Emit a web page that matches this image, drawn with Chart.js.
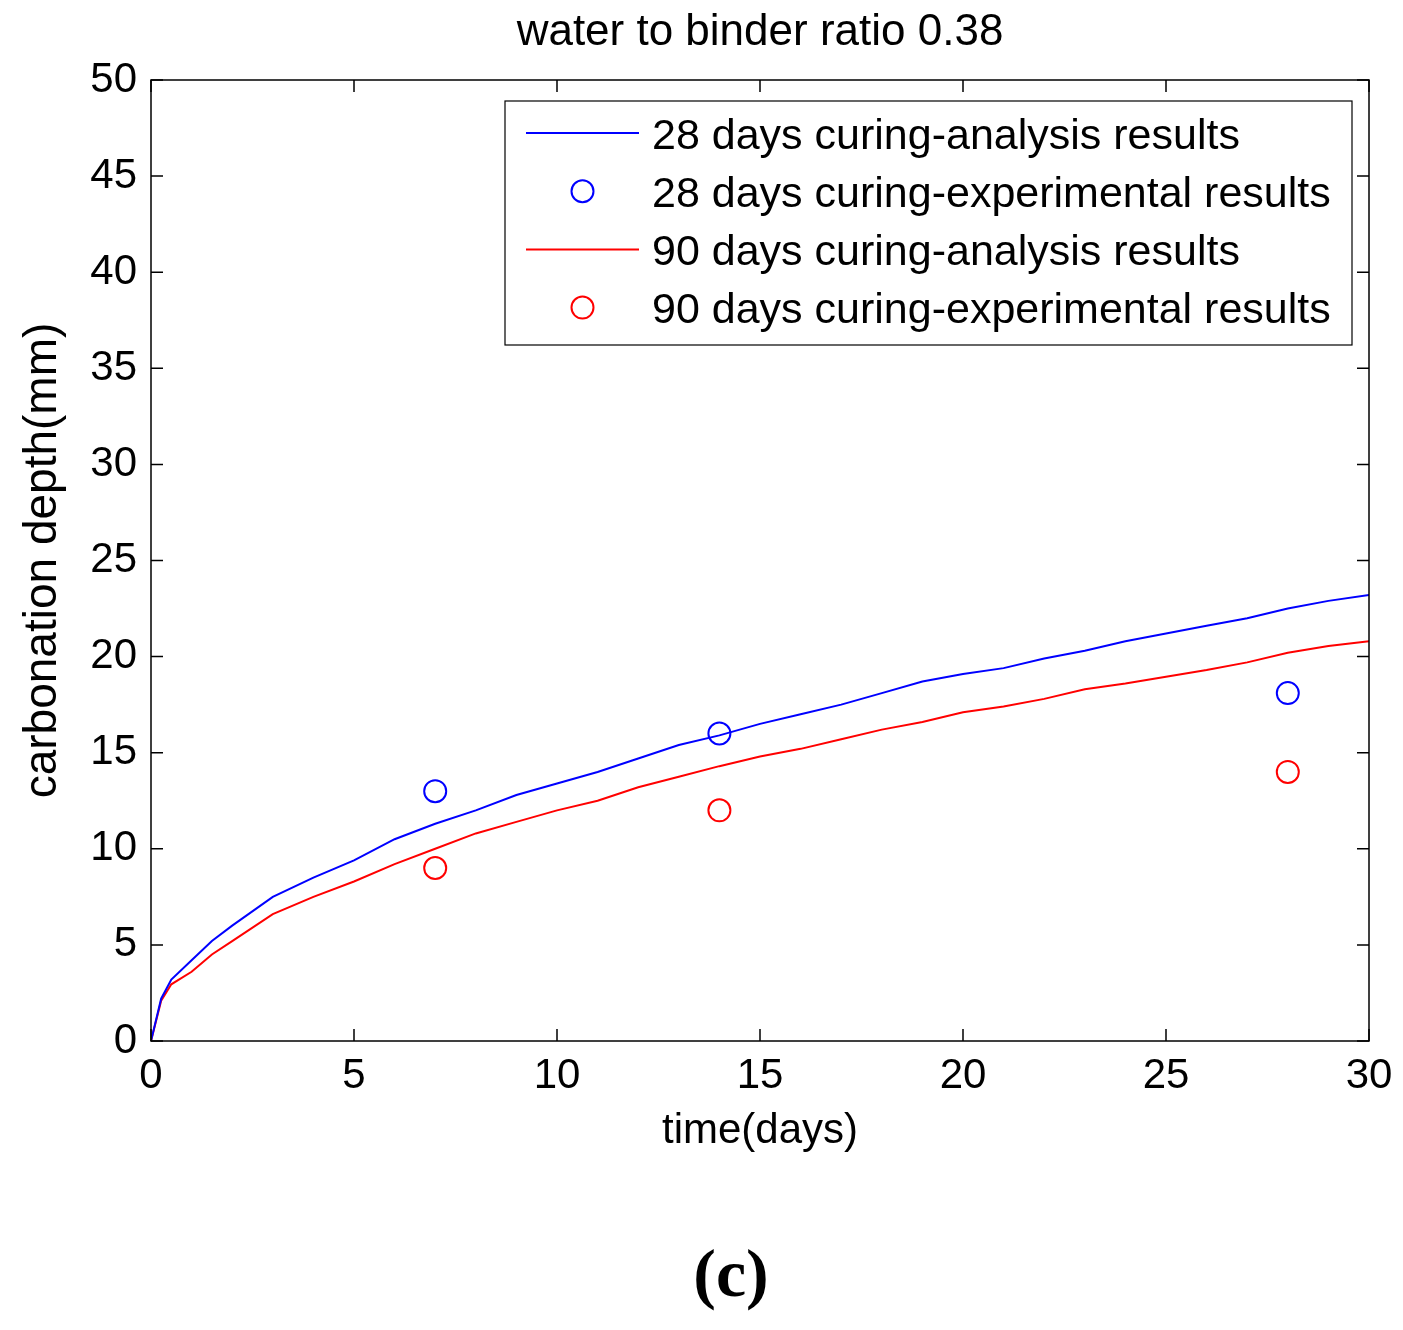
<!DOCTYPE html>
<html lang="en">
<head>
<meta charset="UTF-8">
<title>water to binder ratio 0.38</title>
<script src="https://cdn.jsdelivr.net/npm/chart.js"></script>
<style>
  html, body { margin: 0; padding: 0; background: #fff; }
  #chart { display: block; }
</style>
</head>
<body>
<canvas id="chart" width="1403" height="1330"></canvas>
<script>
    // analysis curves
    const timeDays = [0, 0.25, 0.5, 1, 1.5, 2, 3, 4, 5, 6, 7, 8, 9, 10, 11, 12, 13, 14, 15,
        16, 17, 18, 19, 20, 21, 22, 23, 24, 25, 26, 27, 28, 29, 30];
    const depth28 = [0, 2.2, 3.2, 4.2, 5.2, 6.0, 7.5, 8.5, 9.4, 10.5, 11.3, 12.0, 12.8, 13.4, 14.0, 14.7, 15.4, 15.9, 16.5,
        17.0, 17.5, 18.1, 18.7, 19.1, 19.4, 19.9, 20.3, 20.8, 21.2, 21.6, 22.0, 22.5, 22.9, 23.2];
    const depth90 = [0, 2.1, 2.95, 3.6, 4.5, 5.2, 6.6, 7.5, 8.3, 9.2, 10.0, 10.8, 11.4, 12.0, 12.5, 13.2, 13.75, 14.3, 14.8,
        15.2, 15.7, 16.2, 16.6, 17.1, 17.4, 17.8, 18.3, 18.6, 18.95, 19.3, 19.7, 20.2, 20.55, 20.8];

    // experimental points
    const testDays = [7, 14, 28];
    const test28 = [13, 16, 18.1];
    const test90 = [9, 12, 14];

    const seriesLabels = [
        '28 days curing-analysis results',
        '28 days curing-experimental results',
        '90 days curing-analysis results',
        '90 days curing-experimental results'
    ];

    const BLUE = '#0000ff';
    const RED = '#ff0000';

    Chart.defaults.font.family = '"Liberation Sans", Arial, sans-serif';
    Chart.defaults.color = '#000';

    function pairs(xs, ys) {
        return xs.map((x, i) => ({x: x, y: ys[i]}));
    }

    function lineSet(label, color, values) {
        return {
            label: label,
            data: pairs(timeDays, values),
            borderColor: color,
            borderWidth: 2,
            pointRadius: 0,
            tension: 0,
            fill: false
        };
    }

    function markerSet(label, color, values) {
        return {
            label: label,
            data: pairs(testDays, values),
            showLine: false,
            borderColor: color,
            pointStyle: 'circle',
            pointRadius: 11,
            pointBorderWidth: 2,
            pointBorderColor: color,
            pointBackgroundColor: 'rgba(0,0,0,0)'
        };
    }

    // box, inward ticks on all sides, boxed legend and panel letter
    const framePlugin = {
        id: 'frame',
        afterDraw(chart) {
            const {ctx, chartArea: a, scales: {x, y}} = chart;
            ctx.save();
            ctx.strokeStyle = '#000';
            ctx.lineWidth = 1.5;
            ctx.strokeRect(a.left, a.top, a.right - a.left, a.bottom - a.top);

            const len = 12;
            ctx.beginPath();
            x.ticks.forEach(t => {
                const px = x.getPixelForValue(t.value);
                ctx.moveTo(px, a.bottom); ctx.lineTo(px, a.bottom - len);
                ctx.moveTo(px, a.top); ctx.lineTo(px, a.top + len);
            });
            y.ticks.forEach(t => {
                const py = y.getPixelForValue(t.value);
                ctx.moveTo(a.left, py); ctx.lineTo(a.left + len, py);
                ctx.moveTo(a.right, py); ctx.lineTo(a.right - len, py);
            });
            ctx.stroke();

            // legend
            const bx = a.left + 354, by = a.top + 21;
            const bw = a.right - 17 - bx, bh = 244;
            ctx.fillStyle = '#fff';
            ctx.fillRect(bx, by, bw, bh);
            ctx.lineWidth = 1.2;
            ctx.strokeRect(bx, by, bw, bh);

            ctx.font = '43px "Liberation Sans", Arial, sans-serif';
            ctx.textAlign = 'left';
            ctx.textBaseline = 'middle';
            chart.data.datasets.forEach((ds, i) => {
                const ry = by + 32 + i * 58.2;
                ctx.strokeStyle = ds.borderColor;
                ctx.lineWidth = 2;
                ctx.beginPath();
                if (ds.showLine === false) {
                    ctx.arc(bx + 77.5, ry, 11, 0, Math.PI * 2);
                } else {
                    ctx.moveTo(bx + 21, ry);
                    ctx.lineTo(bx + 134, ry);
                }
                ctx.stroke();
                ctx.fillStyle = '#000';
                ctx.fillText(ds.label, bx + 147, ry + 4);
            });

            // panel letter
            ctx.font = 'bold 68px "Liberation Serif", "Times New Roman", serif';
            ctx.textAlign = 'center';
            ctx.textBaseline = 'alphabetic';
            ctx.fillText('(c)', 731, 1296);
            ctx.restore();
        }
    };

    const ctx = document.getElementById('chart').getContext('2d');
    new Chart(ctx, {
        type: 'line',
        data: {
            datasets: [
                lineSet(seriesLabels[0], BLUE, depth28),
                markerSet(seriesLabels[1], BLUE, test28),
                lineSet(seriesLabels[2], RED, depth90),
                markerSet(seriesLabels[3], RED, test90)
            ]
        },
        options: {
            responsive: false,
            animation: false,
            devicePixelRatio: 1,
            layout: {padding: {left: 0, right: 34, top: 0, bottom: 150}},
            plugins: {
                legend: {display: false},
                tooltip: {enabled: false},
                title: {
                    display: true,
                    fullSize: false,
                    text: 'water to binder ratio 0.38',
                    color: '#000',
                    font: {size: 44, weight: 'normal'},
                    padding: {top: 6.4, bottom: 20.8}
                }
            },
            scales: {
                x: {
                    type: 'linear',
                    min: 0,
                    max: 30,
                    grid: {display: false, drawTicks: false},
                    border: {display: false},
                    ticks: {stepSize: 5, font: {size: 42}, padding: 10, maxRotation: 0, color: '#000'},
                    title: {display: true, text: 'time(days)', color: '#000', font: {size: 42}, padding: {top: 0, bottom: 23}},
                    afterFit: s => { s.height = 139; }
                },
                y: {
                    min: 0,
                    max: 50,
                    grid: {display: false, drawTicks: false},
                    border: {display: false},
                    ticks: {stepSize: 5, font: {size: 42}, padding: 14, color: '#000'},
                    title: {display: true, text: 'carbonation depth(mm)', color: '#000', font: {size: 46}, padding: {top: 16, bottom: 0}},
                    afterFit: s => { s.width = 151; }
                }
            }
        },
        plugins: [framePlugin]
    });
</script>
</body>
</html>
